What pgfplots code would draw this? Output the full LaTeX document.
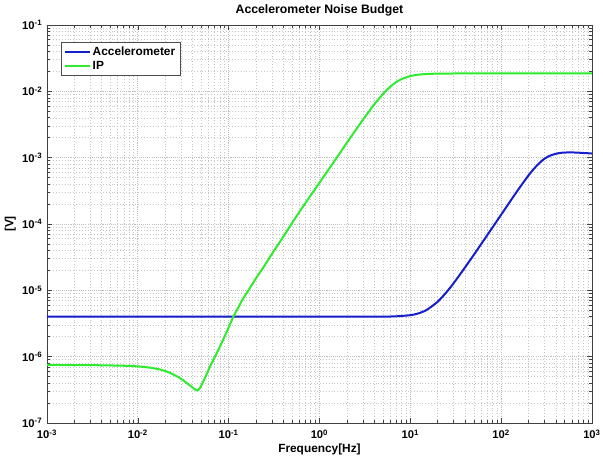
\documentclass[border=0pt]{standalone}
\usepackage{fontspec}
\setmainfont{Liberation Sans}
\usepackage{pgfplots}
\pgfplotsset{compat=1.18}

\definecolor{accblue}{RGB}{20,30,205}
\definecolor{ipgreen}{RGB}{45,235,45}

\begin{document}
\begin{tikzpicture}
\useasboundingbox (-35.25pt,-26.25pt) rectangle (417pt,317.25pt);
\begin{axis}[
  at={(0,0)}, anchor=south west,
  scale only axis,
  width=408.75pt, height=298.5pt,
  xmode=log, ymode=log,
  xmin=1e-3, xmax=1e3,
  ymin=1e-7, ymax=1e-1,
  log basis x=10, log basis y=10,
  xtick={1e-3,1e-2,1e-1,1e0,1e1,1e2,1e3},
  xticklabels={\textbf{10\textsuperscript{-3}},\textbf{10\textsuperscript{-2}},\textbf{10\textsuperscript{-1}},\textbf{10\textsuperscript{0}},\textbf{10\textsuperscript{1}},\textbf{10\textsuperscript{2}},\textbf{10\textsuperscript{3}}},
  ytick={1e-7,1e-6,1e-5,1e-4,1e-3,1e-2,1e-1},
  yticklabels={\textbf{10\textsuperscript{-7}},\textbf{10\textsuperscript{-6}},\textbf{10\textsuperscript{-5}},\textbf{10\textsuperscript{-4}},\textbf{10\textsuperscript{-3}},\textbf{10\textsuperscript{-2}},\textbf{10\textsuperscript{-1}}},
  minor xtick={2e-3,3e-3,4e-3,5e-3,6e-3,7e-3,8e-3,9e-3,
               2e-2,3e-2,4e-2,5e-2,6e-2,7e-2,8e-2,9e-2,
               2e-1,3e-1,4e-1,5e-1,6e-1,7e-1,8e-1,9e-1,
               2,3,4,5,6,7,8,9,
               20,30,40,50,60,70,80,90,
               200,300,400,500,600,700,800,900},
  minor ytick={2e-7,3e-7,4e-7,5e-7,6e-7,7e-7,8e-7,9e-7,
               2e-6,3e-6,4e-6,5e-6,6e-6,7e-6,8e-6,9e-6,
               2e-5,3e-5,4e-5,5e-5,6e-5,7e-5,8e-5,9e-5,
               2e-4,3e-4,4e-4,5e-4,6e-4,7e-4,8e-4,9e-4,
               2e-3,3e-3,4e-3,5e-3,6e-3,7e-3,8e-3,9e-3,
               2e-2,3e-2,4e-2,5e-2,6e-2,7e-2,8e-2,9e-2},
  tick label style={font=\fontsize{8.4}{9}\selectfont},
  xticklabel style={yshift=-1.5pt},
  tick align=inside,
  major tick length=4pt, minor tick length=2pt,
  tick style={black!75, line width=0.4pt},
  axis line style={black!75, line width=0.5pt},
  grid=both,
  major grid style={gray!50, line width=0.5pt, dash pattern=on 0.8pt off 0.8pt},
  minor grid style={gray!45, line width=0.35pt, dash pattern=on 0.6pt off 1.6pt},
  title={\textbf{Accelerometer Noise Budget}},
  title style={font=\fontsize{9.2}{10}\selectfont, at={(0.5,1)}, anchor=base, yshift=2.6pt},
  xlabel={\textbf{Frequency[Hz]}},
  xlabel style={font=\fontsize{8.9}{10}\selectfont, at={(0.5,0)}, anchor=center, yshift=-19.5pt},
  ylabel={\textbf{[V]}},
  ylabel style={font=\fontsize{8.9}{10}\selectfont, at={(0,0.5)}, anchor=center, yshift=27.5pt},
  legend cell align=left,
  legend style={at={(0.0251,0.9565)}, anchor=north west, draw=black!70, fill=white,
    font=\fontsize{8.9}{10}\selectfont\bfseries, inner xsep=2pt, inner ysep=1.5pt,
    nodes={inner sep=1.6pt}, row sep=-0.5pt},
  legend image code/.code={\draw[#1] (0pt,0pt) -- (18.75pt,0pt);},
]
% Accelerometer noise: flat floor, f^2 rise, second-order plateau
\addplot[accblue, line width=1.5pt, smooth, tension=0.4] coordinates {
 (0.001,4.0e-6) (0.01,4.0e-6) (0.1,4.0e-6) (1,4.0e-6) (3,4.0e-6)
 (5,4.01e-6) (7,4.06e-6) (10,4.22e-6) (12,4.45e-6) (15,5.03e-6)
 (20,6.74e-6) (25,9.37e-6) (30,1.284e-5) (40,2.216e-5) (50,3.434e-5)
 (60,4.94e-5) (80,8.81e-5) (100,1.382e-4) (130,2.348e-4) (160,3.546e-4)
 (200,5.40e-4) (225,6.59e-4) (250,7.73e-4) (275,8.74e-4) (300,9.65e-4)
 (325,1.028e-3) (350,1.08e-3) (400,1.145e-3) (450,1.18e-3) (500,1.195e-3)
 (600,1.2e-3) (700,1.19e-3) (800,1.178e-3) (1000,1.155e-3)
};
\addlegendentry{Accelerometer}
% IP noise: low-frequency floor with a dip, f^2 rise, plateau
\addplot[ipgreen, line width=1.5pt, smooth, tension=0.3] coordinates {
 (0.001,7.5e-7) (0.002,7.48e-7) (0.004,7.42e-7) (0.007,7.3e-7) (0.01,7.15e-7)
 (0.014,6.8e-7) (0.0176,6.4e-7) (0.021,5.95e-7) (0.0246,5.4e-7) (0.028,4.9e-7)
 (0.0317,4.4e-7) (0.035,3.95e-7) (0.0392,3.52e-7) (0.0415,3.3e-7) (0.043,3.18e-7)
 (0.0446,3.1e-7) (0.046,3.13e-7) (0.048,3.33e-7) (0.0506,3.8e-7) (0.056,5.1e-7)
 (0.0624,7.1e-7) (0.07,9.7e-7) (0.0804,1.43e-6) (0.09,2.0e-6) (0.0993,2.7e-6)
 (0.1126,4.0e-6) (0.13,5.8e-6) (0.14,7.0e-6) (0.15,8.2e-6) (0.165,1.0e-5)
 (0.2,1.52e-5) (0.25,2.4e-5) (0.3,3.55e-5) (0.4,6.45e-5) (0.486,9.8e-5)
 (0.6,1.52e-4) (0.8,2.7e-4) (1,4.2e-4) (1.55,1.0e-3) (2,1.676e-3)
 (3,3.71e-3) (4,6.33e-3) (5,9.15e-3) (6,1.174e-2) (7,1.381e-2)
 (8,1.53e-2) (10,1.701e-2) (12,1.778e-2) (15,1.825e-2) (20,1.849e-2)
 (30,1.858e-2) (50,1.86e-2) (100,1.86e-2) (300,1.86e-2) (1000,1.86e-2)
};
\addlegendentry{IP}
\end{axis}
\end{tikzpicture}
\end{document}
